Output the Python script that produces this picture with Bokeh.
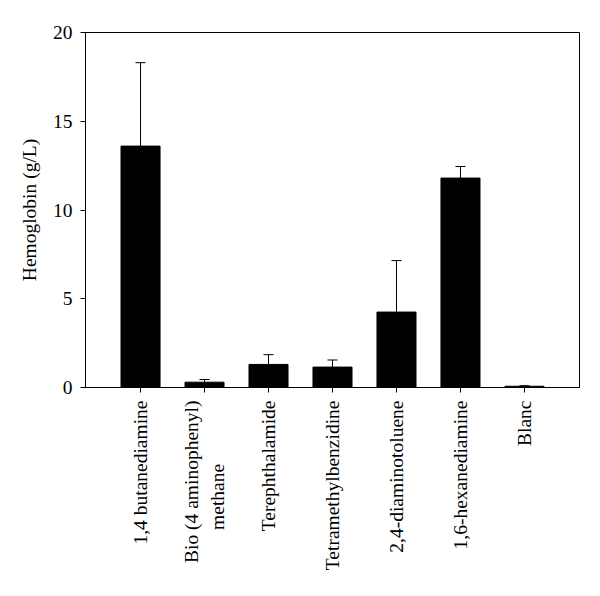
import math
from bokeh.plotting import figure
from bokeh.models import ColumnDataSource, FixedTicker, Whisker, TeeHead
from bokeh.embed import file_html
from bokeh.resources import INLINE

NBSP = "\u00a0"
categories = ["1,4 butanediamine", "Bio (4 aminophenyl)\nmethane" + NBSP * 13, "Terephthalamide",
              "Tetramethylbenzidine", "2,4-diaminotoluene", "1,6-hexanediamine", "Blanc"]
values = [13.6, 0.3, 1.3, 1.15, 4.25, 11.8, 0.07]
errors = [4.7, 0.15, 0.55, 0.4, 2.9, 0.65, 0.03]
y_ticks = [0, 5, 10, 15, 20]

xs = list(range(len(categories)))
upper = [v + e for v, e in zip(values, errors)]
src = ColumnDataSource(dict(x=xs, top=values, upper=upper))

FONT = "Liberation Serif"
FS = "19.5px"

p = figure(frame_width=494, frame_height=355, min_border_left=85, min_border_right=10,
           min_border_top=32, min_border_bottom=10,
           x_range=(-0.86, 6.86), y_range=(0, 20),
           output_backend="svg", toolbar_location=None)

p.vbar(x="x", top="top", width=0.61, bottom=0, source=src,
       fill_color="black", line_color="black")

w = Whisker(source=src, base="x", lower="top", upper="upper",
            line_color="black", line_width=1,
            lower_head=None, upper_head=TeeHead(size=10, line_color="black", line_width=1))
p.add_layout(w)

p.grid.visible = False
p.outline_line_color = "black"
p.outline_line_width = 1
p.outline_line_alpha = 1

p.xaxis.ticker = FixedTicker(ticks=xs)
p.xaxis.major_label_overrides = {i: c for i, c in enumerate(categories)}
p.xaxis.major_label_orientation = math.pi / 2
p.yaxis.ticker = FixedTicker(ticks=y_ticks)

for ax in (p.xaxis, p.yaxis):
    ax.axis_line_color = "black"
    ax.major_tick_line_color = "black"
    ax.major_tick_out = 5
    ax.major_tick_in = 0
    ax.minor_tick_line_color = None
    ax.major_label_text_font = FONT
    ax.major_label_text_font_size = FS
    ax.major_label_text_color = "black"

p.xaxis.major_label_standoff = 8
p.yaxis.major_label_standoff = 8

p.yaxis.axis_label = "Hemoglobin (g/L)"
p.yaxis.axis_label_text_font = FONT
p.yaxis.axis_label_text_font_size = FS
p.yaxis.axis_label_text_font_style = "normal"
p.yaxis.axis_label_text_color = "black"
p.yaxis.axis_label_standoff = 10

p.background_fill_color = "white"
p.border_fill_color = "white"

open("out.html", "w").write(file_html(p, INLINE))
